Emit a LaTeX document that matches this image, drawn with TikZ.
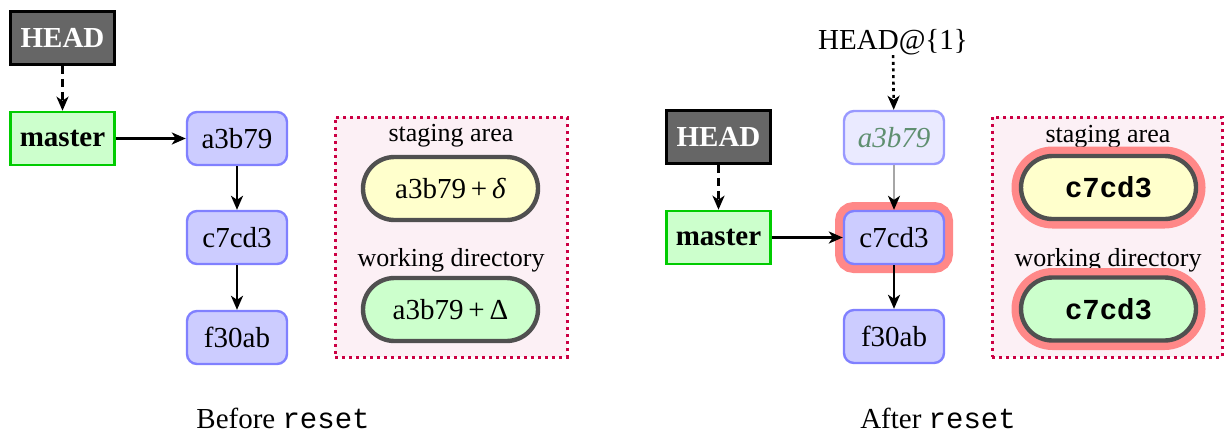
\documentclass[tikz,border=0pt]{standalone}
\usepackage{fontspec}
\setmainfont{Liberation Serif}
\setmonofont{Liberation Mono}
\usetikzlibrary{arrows.meta,shapes.misc}
\definecolor{headfill}{HTML}{666666}
\definecolor{brfill}{HTML}{CCFFCC}
\definecolor{brdraw}{HTML}{00CC00}
\definecolor{cmfill}{HTML}{CCCCFF}
\definecolor{cmdraw}{HTML}{8080FF}
\definecolor{oldfill}{HTML}{EAEAFF}
\definecolor{olddraw}{HTML}{9999FF}
\definecolor{oldtext}{HTML}{5F8F70}
\definecolor{areafill}{HTML}{FCF0F5}
\definecolor{areadraw}{HTML}{CC0044}
\definecolor{stagefill}{HTML}{FFFFCC}
\definecolor{pilldraw}{HTML}{505050}
\definecolor{halo}{HTML}{FF8888}
\tikzset{
  every node/.style={font=\fontsize{14.5}{17}\selectfont, inner sep=0pt},
  lbl/.style={font=\fontsize{13}{15}\selectfont},
  headbox/.style={draw=black, line width=1.3pt, fill=headfill, text=white, font=\fontsize{14.5}{17}\selectfont\bfseries, minimum width=52pt, minimum height=26.5pt},
  branchbox/.style={draw=brdraw, line width=1.3pt, fill=brfill, font=\fontsize{14.5}{17}\selectfont\bfseries, minimum width=52pt, minimum height=26.5pt},
  commitbox/.style={draw=cmdraw, line width=1.2pt, fill=cmfill, rounded corners=5pt, minimum width=50pt, minimum height=26.5pt},
  oldcommit/.style={commitbox, draw=olddraw, fill=oldfill, text=oldtext, font=\fontsize{14.5}{17}\selectfont\itshape},
  areabox/.style={draw=areadraw, fill=areafill, line width=1.5pt, dash pattern=on 1.5pt off 2pt},
  pill/.style={rounded rectangle, draw=pilldraw, line width=2.2pt, minimum width=87.5pt, minimum height=31.5pt},
  haloed/.style={preaction={draw=halo, line width=#1}},
  tip/.style={-{Stealth[length=7pt,width=6pt,inset=2pt,#1]}},
  arr/.style={tip=black, line width=1.3pt},
}
\begin{document}
\begin{tikzpicture}[x=0.5pt,y=-0.5pt]
\useasboundingbox (0,0) rectangle (1224,434);
% ---------- Before ----------
\node[headbox] (h1) at (62.5,38) {HEAD};
\node[branchbox] (m1) at (62.5,138.5) {master};
\node[commitbox] (a1) at (237,138.5) {a3b79};
\node[commitbox] (c1) at (237,237.5) {c7cd3};
\node[commitbox] (f1) at (237,337.5) {f30ab};
\draw[arr, dash pattern=on 4pt off 2.5pt] (h1) -- (m1);
\draw[arr] (m1) -- (a1);
\draw[arr] (a1) -- (c1);
\draw[arr] (c1) -- (f1);
\node[areabox, minimum width=116pt, minimum height=120pt] (ar1) at (451,237) {};
\node[lbl] (sl1) at (451,136) {staging area};
\node[pill, fill=stagefill] (s1) at (450.5,188.5) {a3b79\,+\,\textit{δ}};
\node[lbl] (wl1) at (451,260) {working directory};
\node[pill, fill=brfill] (w1) at (450.5,309.5) {a3b79\,+\,Δ};
\node (cap1) at (283,418) {Before \texttt{reset}};
% ---------- After ----------
\node (h1ref) at (893,42) {HEAD@\{1\}};
\node[headbox] (h2) at (718.5,137) {HEAD};
\node[branchbox] (m2) at (718.5,237.5) {master};
\node[oldcommit] (a2) at (894,137.5) {a3b79};
\node[commitbox, haloed=9pt] (c2) at (894,237.5) {c7cd3};
\node[commitbox] (f2) at (894,336.5) {f30ab};
\draw[arr, dash pattern=on 1.5pt off 1.8pt] (h1ref) -- (a2);
\draw[arr, dash pattern=on 4pt off 2.5pt] (h2) -- (m2);
\draw[arr] (m2) -- (c2);
\draw[arr, line width=0.9pt, draw=black!35] (a2) -- (c2);
\draw[arr] (c2) -- (f2);
\node[areabox, minimum width=115pt, minimum height=120pt] (ar2) at (1107,237) {};
\node[lbl] (sl2) at (1108,137) {staging area};
\node[pill, fill=stagefill, haloed=9.5pt, font=\fontsize{14.5}{17}\selectfont\ttfamily\bfseries] (s2) at (1108.5,187.5) {c7cd3};
\node[lbl] (wl2) at (1108,260) {working directory};
\node[pill, fill=brfill, haloed=9.5pt, font=\fontsize{14.5}{17}\selectfont\ttfamily\bfseries] (w2) at (1108.5,309) {c7cd3};
\node (cap2) at (938,418) {After \texttt{reset}};
\end{tikzpicture}
\end{document}
